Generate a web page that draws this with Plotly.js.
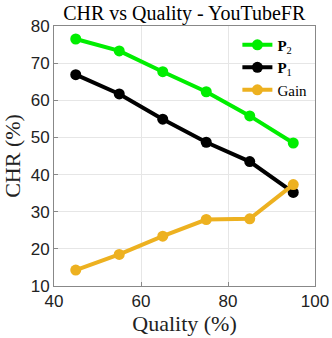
<!DOCTYPE html>
<html>
<head>
<meta charset="utf-8">
<script src="https://cdn.plot.ly/plotly-3.0.1.min.js"></script>
<style>
  html, body { margin: 0; padding: 0; background: #fff; }
  #grafico { width: 332px; height: 338px; }
</style>
</head>
<body>
<div id="grafico"></div>
<script>
// Qualidade (%) no eixo x
const quality = [45, 55, 65, 75, 85, 95];
// CHR (%) de cada série
const p2 = [76.5, 73.3, 67.7, 62.3, 55.8, 48.5];
const p1 = [66.9, 61.7, 54.9, 48.7, 43.5, 35.2];
const gain = [14.3, 18.5, 23.4, 27.9, 28.1, 37.3];

const serif = 'Liberation Serif, DejaVu Serif, serif';
const sans = 'Liberation Sans, Arial, sans-serif';

function serie(nome, y, cor) {
    return {
        x: quality,
        y: y,
        name: nome,
        type: 'scatter',
        mode: 'lines+markers',
        line: { color: cor, width: 4 },
        marker: { color: cor, size: 11 }
    };
}

const data = [
    serie('<b>P</b><sub>2</sub>', p2, '#00ee00'),
    serie('<b>P</b><sub>1</sub>', p1, '#000000'),
    serie('Gain', gain, '#edb120')
];

const layout = {
    width: 332,
    height: 338,
    margin: { l: 54, r: 17, t: 26, b: 52 },
    title: {
        text: 'CHR vs Quality - YouTubeFR',
        font: { family: serif, size: 20, color: '#000' },
        x: 0.555, xanchor: 'center', yref: 'container', y: 0.962, yanchor: 'middle'
    },
    xaxis: {
        title: { text: 'Quality (%)', font: { family: serif, size: 22, color: '#222' }, standoff: 2 },
        range: [40, 100],
        tickvals: [40, 60, 80, 100],
        tickfont: { family: sans, size: 17, color: '#222' },
        showgrid: true, gridcolor: '#e6e6e6',
        zeroline: false,
        showline: true, linecolor: '#888', mirror: true,
        ticks: 'inside', ticklen: 4, tickcolor: '#888'
    },
    yaxis: {
        title: { text: 'CHR (%)', font: { family: serif, size: 22, color: '#222' }, standoff: 4 },
        range: [10, 80],
        tickvals: [10, 20, 30, 40, 50, 60, 70, 80],
        tickfont: { family: sans, size: 17, color: '#222' },
        showgrid: true, gridcolor: '#e6e6e6',
        zeroline: false,
        showline: true, linecolor: '#888', mirror: true,
        ticks: 'inside', ticklen: 4, tickcolor: '#888'
    },
    legend: {
        x: 0.99, xanchor: 'right', y: 0.99, yanchor: 'top',
        bgcolor: 'rgba(0,0,0,0)',
        font: { family: serif, size: 15, color: '#000' },
        tracegroupgap: 0
    },
    showlegend: true,
    plot_bgcolor: '#fff',
    paper_bgcolor: '#fff'
};

Plotly.newPlot('grafico', data, layout, { displayModeBar: false, staticPlot: true });
</script>
</body>
</html>
